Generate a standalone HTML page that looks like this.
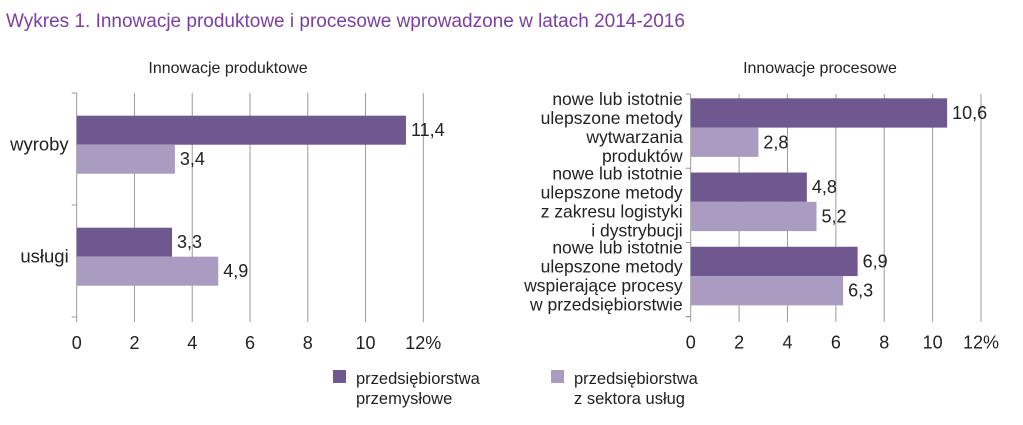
<!DOCTYPE html>
<html><head><meta charset="utf-8"><style>
body{margin:0;background:#fff;width:1023px;height:420px;overflow:hidden;font-family:"Liberation Sans",sans-serif;}
svg text{font-family:"Liberation Sans",sans-serif;fill:#222;}
</style></head><body>
<svg id="c" width="1023" height="420">
<text x="6" y="27" font-size="19" style="fill:#7b3fa0">Wykres 1. Innowacje produktowe i procesowe wprowadzone w latach 2014-2016</text>
<text x="228" y="73" font-size="16" text-anchor="middle">Innowacje produktowe</text>
<text x="820" y="73" font-size="16" text-anchor="middle">Innowacje procesowe</text>
<g>
<rect x="333" y="370" width="13" height="13" fill="#6f5890"/>
<text x="356" y="384" font-size="16.5">przedsiębiorstwa</text>
<text x="356" y="404" font-size="16.5">przemysłowe</text>
<rect x="551" y="370" width="13" height="13" fill="#a99cc0"/>
<text x="574" y="384" font-size="16.5">przedsiębiorstwa</text>
<text x="574" y="404" font-size="16.5">z sektora usług</text>
</g>
</svg>
<script>
const leftCategories=[["wyroby"],["usługi"]];
const leftIndustry=[11.4,3.3];
const leftServices=[3.4,4.9];
const rightCategories=[["nowe lub istotnie","ulepszone metody","wytwarzania","produktów"],["nowe lub istotnie","ulepszone metody","z zakresu logistyki","i dystrybucji"],["nowe lub istotnie","ulepszone metody","wspierające procesy","w przedsiębiorstwie"]];
const rightIndustry=[10.6,4.8,6.9];
const rightServices=[2.8,5.2,6.3];
const xTicks=[0,2,4,6,8,10,12];
const xTickLabels=["0","2","4","6","8","10","12%"];
const NS="http://www.w3.org/2000/svg";
const svg=document.getElementById('c');
function mk(t,a,p){const e=document.createElementNS(NS,t);for(const k in a)e.setAttribute(k,a[k]);(p||svg).appendChild(e);return e;}
function panel(name,x0,x1,top,bot,cats,ind,ser,barH,offset,catSize,lineH){
  const g=mk('g',{});
  
  
  const xs=v=>x0+(x1-x0)*v/12;
  const band=(bot-top)/cats.length;
  xTicks.forEach((t,i)=>{
    const l=mk('line',{x1:xs(t),x2:xs(t),y1:top,y2:bot+5,stroke:'#9a9a9a','stroke-width':1},g);
    
    
    const tx=mk('text',{x:xs(t),y:bot+32,'font-size':18,'text-anchor':'middle'},g);
    tx.textContent=xTickLabels[i];
    
    
  });
  const ax=mk('line',{x1:x0-5,x2:x0,y1:bot,y2:bot,stroke:'#9a9a9a'},g);
  
  
  for(let i=0;i<=cats.length;i++){
    const l=mk('line',{x1:x0-5,x2:x0,y1:top+band*i,y2:top+band*i,stroke:'#9a9a9a'},g);
    
    
  }
  cats.forEach((c,i)=>{
    const y=top+band*i+offset;
    [[ind[i],'#6f5890','bar-industry'],[ser[i],'#a99cc0','bar-services']].forEach((s,j)=>{
      const yy=y+j*barH;
      const r=mk('rect',{x:x0,y:yy,width:xs(s[0])-x0,height:barH,fill:s[1]},g);
      
      
      const t=mk('text',{x:xs(s[0])+5,y:yy+barH/2+6,'font-size':18},g);
      t.textContent=s[0].toFixed(1).replace('.',',');
      
      
    });
    const cy=y+barH;
    c.forEach((ln,k)=>{
      const t=mk('text',{x:x0-8,y:cy+(k-(c.length-1)/2)*lineH+6,'font-size':catSize,'text-anchor':'end'},g);
      t.textContent=ln;
      
      
    });
  });
}
panel('left-chart',76.7,423.3,93,317,leftCategories,leftIndustry,leftServices,29,22.7,18.5,19);
panel('right-chart',690.7,981,94,316.7,rightCategories,rightIndustry,rightServices,29.3,4.3,17.5,19);
</script>
</body></html>
